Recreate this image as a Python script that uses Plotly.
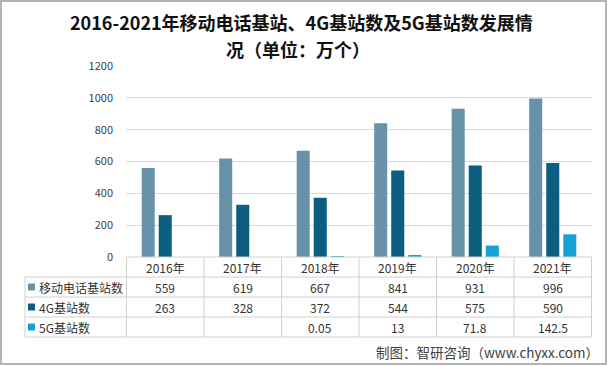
import plotly.graph_objects as go

years = ["2016年", "2017年", "2018年", "2019年", "2020年", "2021年"]
series_names = ["移动电话基站数", "4G基站数", "5G基站数"]
mobile = [559, 619, 667, 841, 931, 996]
g4 = [263, 328, 372, 544, 575, 590]
g5 = [None, None, 0.05, 13, 71.8, 142.5]
g5_text = ["", "", "0.05", "13", "71.8", "142.5"]
colors = ["#6792AA", "#0B5E80", "#17A2D6"]

W, H = 608, 366
L, R, T, B = 126, 592, 66, 257
PW, PH = R - L, B - T

def px(x):
    return (x - L) / PW

def py(y):
    return (B - y) / PH

FONT = "Microsoft YaHei, Noto Sans CJK SC, sans-serif"
fig = go.Figure()
vals = [mobile, g4, g5]
for name, v, c in zip(series_names, vals, colors):
    fig.add_trace(go.Bar(x=years, y=v, name=name, marker=dict(color=c, line=dict(width=0))))

shapes = []
line_c = "#D0D0D0"
for y in [277, 297, 317, 337]:
    shapes.append(dict(type="line", xref="paper", yref="paper", x0=px(25), x1=px(R), y0=py(y), y1=py(y),
                       line=dict(color=line_c, width=1)))
shapes.append(dict(type="line", xref="paper", yref="paper", x0=0, x1=1, y0=0, y1=0,
                   line=dict(color=line_c, width=1)))
shapes.append(dict(type="line", xref="paper", yref="paper", x0=px(25), x1=px(25), y0=py(277), y1=py(337),
                   line=dict(color=line_c, width=1)))
for i in range(len(years) + 1):
    shapes.append(dict(type="line", xref="x", yref="paper", x0=i - 0.5, x1=i - 0.5, y0=0, y1=py(337),
                       line=dict(color=line_c, width=1)))
for yy, c in zip([287, 307, 327], colors):
    shapes.append(dict(type="rect", xref="paper", yref="paper", x0=px(28), x1=px(35), y0=py(yy + 3.5), y1=py(yy - 3.5),
                       fillcolor=c, line=dict(width=0)))
shapes.append(dict(type="rect", xref="paper", yref="paper", x0=px(1), x1=px(W - 2), y0=py(H - 2), y1=py(1),
                   line=dict(color="#B4B4B4", width=2)))

ann = []
txt_c = "#333333"
def add(x, y, text, size, xref="paper", xanchor="center", color=txt_c):
    ann.append(dict(x=x, y=y, xref=xref, yref="paper", text=text, showarrow=False,
                    xanchor=xanchor, yanchor="middle",
                    font=dict(size=size, color=color, family=FONT)))

for yr in years:
    add(yr, py(267), yr, 12, xref="x")
rows = [[str(v) for v in mobile], [str(v) for v in g4], g5_text]
for yy, name, row in zip([287, 307, 327], series_names, rows):
    add(px(37), py(yy), name, 12, xanchor="left")
    for i, t in enumerate(row):
        add(years[i], py(yy), t, 12, xref="x")
add(px(601), py(352), "制图：智研咨询（www.chyxx.com）", 13.5, xanchor="right", color="#404040")
add(px(301), py(22), "<b>2016-2021年移动电话基站、4G基站数及5G基站数发展情</b>", 18, color="#111111")
add(px(298), py(49), "<b>况（单位：万个）</b>", 18, color="#111111")

fig.update_layout(
    width=W, height=H,
    margin=dict(l=L, r=W - R, t=T, b=H - B, pad=0),
    paper_bgcolor="white", plot_bgcolor="white",
    showlegend=False,
    barmode="group", bargap=0.34, bargroupgap=0.235,
    xaxis=dict(showticklabels=False, showgrid=False, zeroline=False, showline=False, ticks=""),
    yaxis=dict(range=[0, 1200], tickvals=[0, 200, 400, 600, 800, 1000, 1200],
               showgrid=True, gridcolor="#D9D9D9", gridwidth=1, zeroline=False, showline=False,
               ticks="", ticklen=0, tickfont=dict(size=11, color="#404040", family=FONT), ticklabelstandoff=12),
    shapes=shapes, annotations=ann,
    font=dict(family=FONT),
)
fig.write_html("out.html", config={"displayModeBar": False},
               post_script="document.body.style.margin='0';document.body.style.overflow='hidden';")
